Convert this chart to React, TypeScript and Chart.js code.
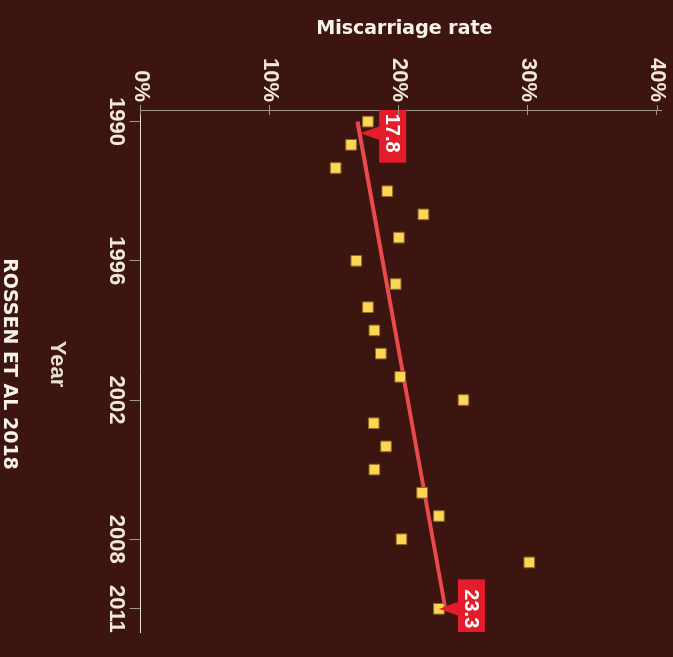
import React, { useEffect, useRef } from "react";
import { Chart, registerables } from "chart.js";

Chart.register(...registerables);

// ---- data ----
const years = [1990, 1991, 1992, 1993, 1994, 1995, 1996, 1997, 1998, 1999, 2000, 2001, 2002, 2003, 2004, 2005, 2006, 2007, 2008, 2009, 2011];
const rates = [17.6, 16.3, 15.1, 19.1, 21.9, 20.0, 16.7, 19.75, 17.6, 18.1, 18.6, 20.1, 25.0, 18.05, 19.0, 18.1, 21.8, 23.1, 20.2, 30.1, 23.1];
const trendYears = [1990, 2011];
const trendRates = [16.8, 23.6];
const yearTicks = [1990, 1996, 2002, 2008, 2011];
const rateTicks = [0, 10, 20, 30, 40];
const calloutLabels = ["17.8", "23.3"];
const calloutYears = [1990.5, 2011];
const calloutRates = [17.0, 23.1];
const yearTitle = "Year";
const rateTitle = "Miscarriage rate";
const caption = "ROSSEN ET AL 2018";

// ---- style ----
const BG = "#3c1511";
const CREAM = "#f1e8d6";
const AXIS_GRAY = "#a3978f";
const AXIS_CREAM = "#e8dfcc";
const POINT_FILL = "#fdd653";
const POINT_EDGE = "#8d6a25";
const LINE_RED = "#ea4a4c";
const CALLOUT_RED = "#e51c2b";
const ARIAL = '"Liberation Sans", Arial, Helvetica, sans-serif';
const DEJAVU = '"DejaVu Sans", Verdana, sans-serif';

const overlayPlugin = {
  id: "overlay",
  afterDatasetsDraw(chart: any) {
    const { ctx, chartArea, scales } = chart;
    const xs = scales.x;
    const ys = scales.y;
    ctx.save();
    ctx.beginPath();
    ctx.rect(chartArea.left, chartArea.top, chartArea.right - chartArea.left, chartArea.bottom - chartArea.top);
    ctx.clip();
    ctx.font = `bold 20px ${ARIAL}`;
    calloutLabels.forEach((label, i) => {
      const px = xs.getPixelForValue(calloutYears[i]);
      const py = ys.getPixelForValue(calloutRates[i]);
      const w = ctx.measureText(label).width + 20;
      const h = 27;
      const gap = 19;
      const bottom = py - gap;
      const top = bottom - h;
      ctx.fillStyle = CALLOUT_RED;
      ctx.fillRect(px - w / 2, top, w, h);
      ctx.beginPath();
      ctx.moveTo(px - 7, bottom - 0.5);
      ctx.lineTo(px, py);
      ctx.lineTo(px + 7, bottom - 0.5);
      ctx.closePath();
      ctx.fill();
      ctx.fillStyle = "#ffffff";
      ctx.textAlign = "center";
      ctx.textBaseline = "middle";
      ctx.fillText(label, px, top + h / 2 + 1);
    });
    ctx.restore();
  },
  afterDraw(chart: any) {
    const { ctx, chartArea, scales } = chart;
    const ys = scales.y;
    const xs = scales.x;
    ctx.save();
    // inner half of the rate-axis ticks
    ctx.strokeStyle = AXIS_GRAY;
    ctx.lineWidth = 1;
    rateTicks.forEach((v) => {
      const py = Math.round(ys.getPixelForValue(v)) + 0.5;
      ctx.beginPath();
      ctx.moveTo(chartArea.left, py);
      ctx.lineTo(chartArea.left + 5, py);
      ctx.stroke();
    });
    const midX = (xs.left + xs.right) / 2 - 7;
    ctx.textAlign = "center";
    ctx.textBaseline = "middle";
    // year axis title
    ctx.font = `bold 22px ${ARIAL}`;
    ctx.fillStyle = AXIS_CREAM;
    ctx.fillText(yearTitle, midX, chart.height - 56.7);
    // source caption
    ctx.font = `bold 19px ${DEJAVU}`;
    ctx.fillStyle = "#f7f2ea";
    ctx.fillText(caption, midX, chart.height - 8.5);
    // rate axis title (rotated)
    ctx.translate(29, (chartArea.top + chartArea.bottom) / 2 - 3);
    ctx.rotate(-Math.PI / 2);
    ctx.font = `bold 19px ${DEJAVU}`;
    ctx.fillStyle = "#f8f3e8";
    ctx.fillText(rateTitle, 0, 0);
    ctx.restore();
  },
};

export default function App() {
  const ref = useRef<HTMLCanvasElement>(null);

  useEffect(() => {
    if (!ref.current) return;
    const points = years.map((y, i) => ({ x: y, y: rates[i] }));
    const trend = trendYears.map((y, i) => ({ x: y, y: trendRates[i] }));
    const chart = new Chart(ref.current, {
      type: "scatter",
      data: {
        datasets: [
          {
            data: points,
            pointStyle: "rect",
            pointRadius: 7.5,
            pointBackgroundColor: POINT_FILL,
            pointBorderColor: POINT_EDGE,
            pointBorderWidth: 1,
            order: 0,
          } as any,
          {
            data: trend,
            showLine: true,
            borderColor: LINE_RED,
            borderWidth: 4,
            pointRadius: 0,
            order: 1,
          } as any,
        ],
      },
      options: {
        animation: false,
        responsive: false,
        events: [],
        layout: { padding: { top: 11, right: 25, left: 0, bottom: 0 } },
        plugins: {
          legend: { display: false },
          tooltip: { enabled: false },
          title: { display: false },
        },
        scales: {
          x: {
            type: "linear",
            min: 1989.5,
            max: 2012,
            afterBuildTicks: (scale: any) => {
              scale.ticks = yearTicks.map((v) => ({ value: v }));
            },
            afterFit: (scale: any) => {
              scale.height = 140.7;
              scale.paddingLeft = 0;
              scale.paddingRight = 0;
            },
            ticks: {
              autoSkip: false,
              maxRotation: 0,
              minRotation: 0,
              padding: 0,
              color: CREAM,
              font: { family: ARIAL, size: 22, weight: "bold" },
              callback: (v: any) => String(v),
            },
            grid: {
              display: true,
              drawOnChartArea: false,
              drawTicks: true,
              tickLength: 11,
              color: AXIS_GRAY,
            },
            border: { display: true, color: AXIS_CREAM, width: 1 },
            title: { display: false },
          },
          y: {
            type: "linear",
            position: "left",
            min: 0,
            max: 40.38,
            afterBuildTicks: (scale: any) => {
              scale.ticks = rateTicks.map((v) => ({ value: v }));
            },
            afterFit: (scale: any) => {
              scale.width = 110;
              scale.paddingTop = 0;
              scale.paddingBottom = 0;
            },
            ticks: {
              padding: 3,
              color: CREAM,
              font: { family: ARIAL, size: 22, weight: "bold" },
              callback: (v: any) => `${v}%`,
            },
            grid: {
              display: true,
              drawOnChartArea: false,
              drawTicks: true,
              tickLength: 5,
              color: AXIS_GRAY,
            },
            border: { display: true, color: AXIS_GRAY, width: 1 },
            title: { display: false },
          },
        },
      },
      plugins: [overlayPlugin],
    } as any);
    return () => chart.destroy();
  }, []);

  return (
    <div
      style={{
        position: "fixed",
        left: 0,
        top: 0,
        width: 673,
        height: 657,
        background: BG,
        overflow: "hidden",
      }}
    >
      <div
        style={{
          position: "absolute",
          left: 8,
          top: -8,
          width: 657,
          height: 673,
          transform: "rotate(90deg)",
          transformOrigin: "50% 50%",
        }}
      >
        <canvas ref={ref} width={657} height={673} style={{ display: "block", width: 657, height: 673 }} />
      </div>
    </div>
  );
}
